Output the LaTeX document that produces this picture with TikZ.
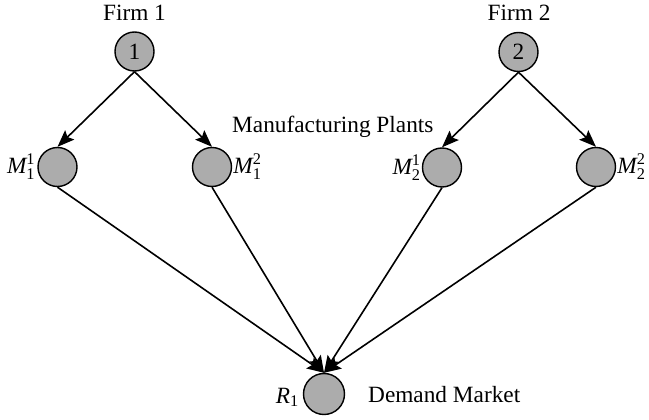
\documentclass[tikz,border=0pt]{standalone}
\usepackage{amsmath}
\usepackage{fontspec}
\setmainfont{Liberation Serif}
\usetikzlibrary{arrows.meta}
\definecolor{nodegray}{RGB}{172,172,172}
\begin{document}
\begin{tikzpicture}[x=1pt,y=-1pt,
  every node/.style={font=\fontsize{23.3}{27}\selectfont},
  netnode/.style={circle,draw=black,line width=1.4pt,fill=nodegray,minimum size=39pt,inner sep=0pt},
  txt/.style={inner sep=0pt},
  arr/.style={line width=1.6pt,-{Stealth[length=17pt,width=13pt,inset=3pt]}}]
\useasboundingbox (0,0) rectangle (649,420);
% firms
\node[netnode] (F1) at (134.5,51.5) {1};
\node[netnode] (F2) at (518.5,52) {2};
\node[txt,anchor=base] (F1l) at (134.5,21) {Firm 1};
\node[txt,anchor=base] (F2l) at (519,21) {Firm 2};
% plants
\node[netnode] (M11) at (57.5,167) {};
\node[netnode] (M12) at (212,167) {};
\node[netnode] (M21) at (442,167.5) {};
\node[netnode] (M22) at (596,167) {};
\node[txt,anchor=east,xshift=-2pt] (M11l) at (M11.west) {$\textit{M}^{\text{1}}_{\text{1}}$};
\node[txt,anchor=west,xshift=1pt] (M12l) at (M12.east) {$\textit{M}^{\text{2}}_{\text{1}}$};
\node[txt,anchor=east,xshift=-1pt] (M21l) at (M21.west) {$\textit{M}^{\text{1}}_{\text{2}}$};
\node[txt,anchor=west,xshift=1pt] (M22l) at (M22.east) {$\textit{M}^{\text{2}}_{\text{2}}$};
\node[txt,anchor=base west] (MPl) at (232,133) {Manufacturing Plants};
% demand market
\node[netnode,minimum size=41pt] (R1) at (324,394) {};
\node[txt,anchor=base east] (R1l) at (299,403) {$\textit{R}_{\text{1}}$};
\node[txt,anchor=base west] (DMl) at (368,402) {Demand Market};
% links
\draw[arr] (F1.south) -- (M11.north);
\draw[arr] (F1.south) -- (M12.north);
\draw[arr] (F2.south) -- (M21.north);
\draw[arr] (F2.south) -- (M22.north);
\draw[arr] (M11.south) -- (R1.north);
\draw[arr] (M12.south) -- (R1.north);
\draw[arr] (M21.south) -- (R1.north);
\draw[arr] (M22.south) -- (R1.north);
\end{tikzpicture}
\end{document}
